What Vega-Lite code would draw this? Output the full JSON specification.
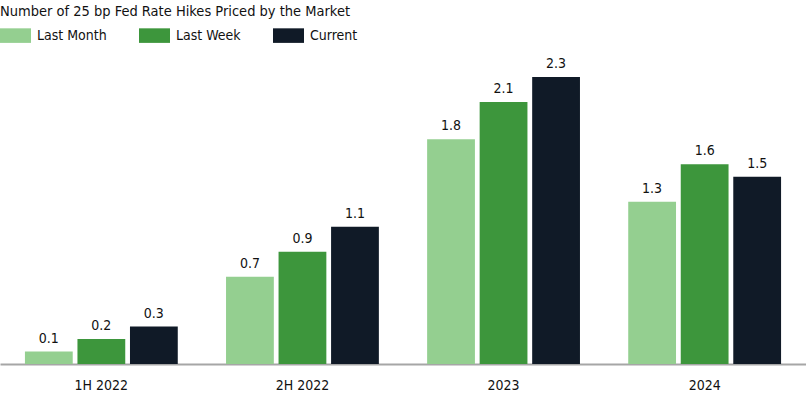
{
  "$schema": "https://vega.github.io/schema/vega-lite/v6.json",
  "width": 806,
  "height": 314,
  "autosize": {"type": "none"},
  "padding": {"left": 0, "top": 50, "right": 0, "bottom": 33},
  "background": "white",
  "title": {
    "text": "Number of 25 bp Fed Rate Hikes Priced by the Market",
    "anchor": "start",
    "frame": "group",
    "font": "DejaVu Sans Condensed, Roboto, sans-serif",
    "fontSize": 14.5,
    "fontWeight": "normal",
    "color": "#111111",
    "offset": 1
  },
  "config": {
    "view": {"stroke": null},
    "font": "DejaVu Sans Condensed, Roboto, sans-serif"
  },
  "data": {
    "values": [
      {"period": "1H 2022", "series": "Last Month", "value": 0.1},
      {"period": "1H 2022", "series": "Last Week", "value": 0.2},
      {"period": "1H 2022", "series": "Current", "value": 0.3},
      {"period": "2H 2022", "series": "Last Month", "value": 0.7},
      {"period": "2H 2022", "series": "Last Week", "value": 0.9},
      {"period": "2H 2022", "series": "Current", "value": 1.1},
      {"period": "2023", "series": "Last Month", "value": 1.8},
      {"period": "2023", "series": "Last Week", "value": 2.1},
      {"period": "2023", "series": "Current", "value": 2.3},
      {"period": "2024", "series": "Last Month", "value": 1.3},
      {"period": "2024", "series": "Last Week", "value": 1.6},
      {"period": "2024", "series": "Current", "value": 1.5}
    ]
  },
  "encoding": {
    "x": {
      "field": "period",
      "type": "nominal",
      "sort": ["1H 2022", "2H 2022", "2023", "2024"],
      "scale": {"paddingInner": 0.24, "paddingOuter": 0.124},
      "axis": {
        "title": null,
        "labelAngle": 0,
        "ticks": false,
        "labelPadding": 14,
        "labelFont": "DejaVu Sans Condensed, Roboto, sans-serif",
        "labelFontSize": 14,
        "labelColor": "#111111",
        "domainColor": "#A6A6A6",
        "domainWidth": 2,
        "grid": false
      }
    },
    "xOffset": {
      "field": "series",
      "type": "nominal",
      "sort": ["Last Month", "Last Week", "Current"],
      "scale": {"paddingInner": 0.09, "paddingOuter": 0}
    },
    "y": {
      "field": "value",
      "type": "quantitative",
      "scale": {"domain": [0, 2.516], "nice": false, "zero": true},
      "axis": null
    }
  },
  "layer": [
    {
      "mark": {"type": "bar"},
      "encoding": {
        "color": {
          "field": "series",
          "type": "nominal",
          "sort": ["Last Month", "Last Week", "Current"],
          "scale": {
            "domain": ["Last Month", "Last Week", "Current"],
            "range": ["#94CF90", "#3D963C", "#101A27"]
          },
          "legend": {
            "title": null,
            "orient": "none",
            "legendX": 0,
            "legendY": -30,
            "direction": "horizontal",
            "symbolType": "M-1,-0.47H1V0.47H-1Z",
            "symbolSize": 961,
            "symbolStrokeWidth": 0,
            "symbolOpacity": 1,
            "labelFont": "DejaVu Sans Condensed, Roboto, sans-serif",
            "labelFontSize": 14,
            "labelColor": "#111111",
            "labelOffset": 6,
            "columnPadding": 32
          }
        }
      }
    },
    {
      "mark": {
        "type": "text",
        "baseline": "alphabetic",
        "dy": -9,
        "font": "DejaVu Sans Condensed, Roboto, sans-serif",
        "fontSize": 14,
        "color": "#111111"
      },
      "encoding": {
        "text": {"field": "value", "type": "quantitative", "format": ".1f"}
      }
    }
  ]
}
